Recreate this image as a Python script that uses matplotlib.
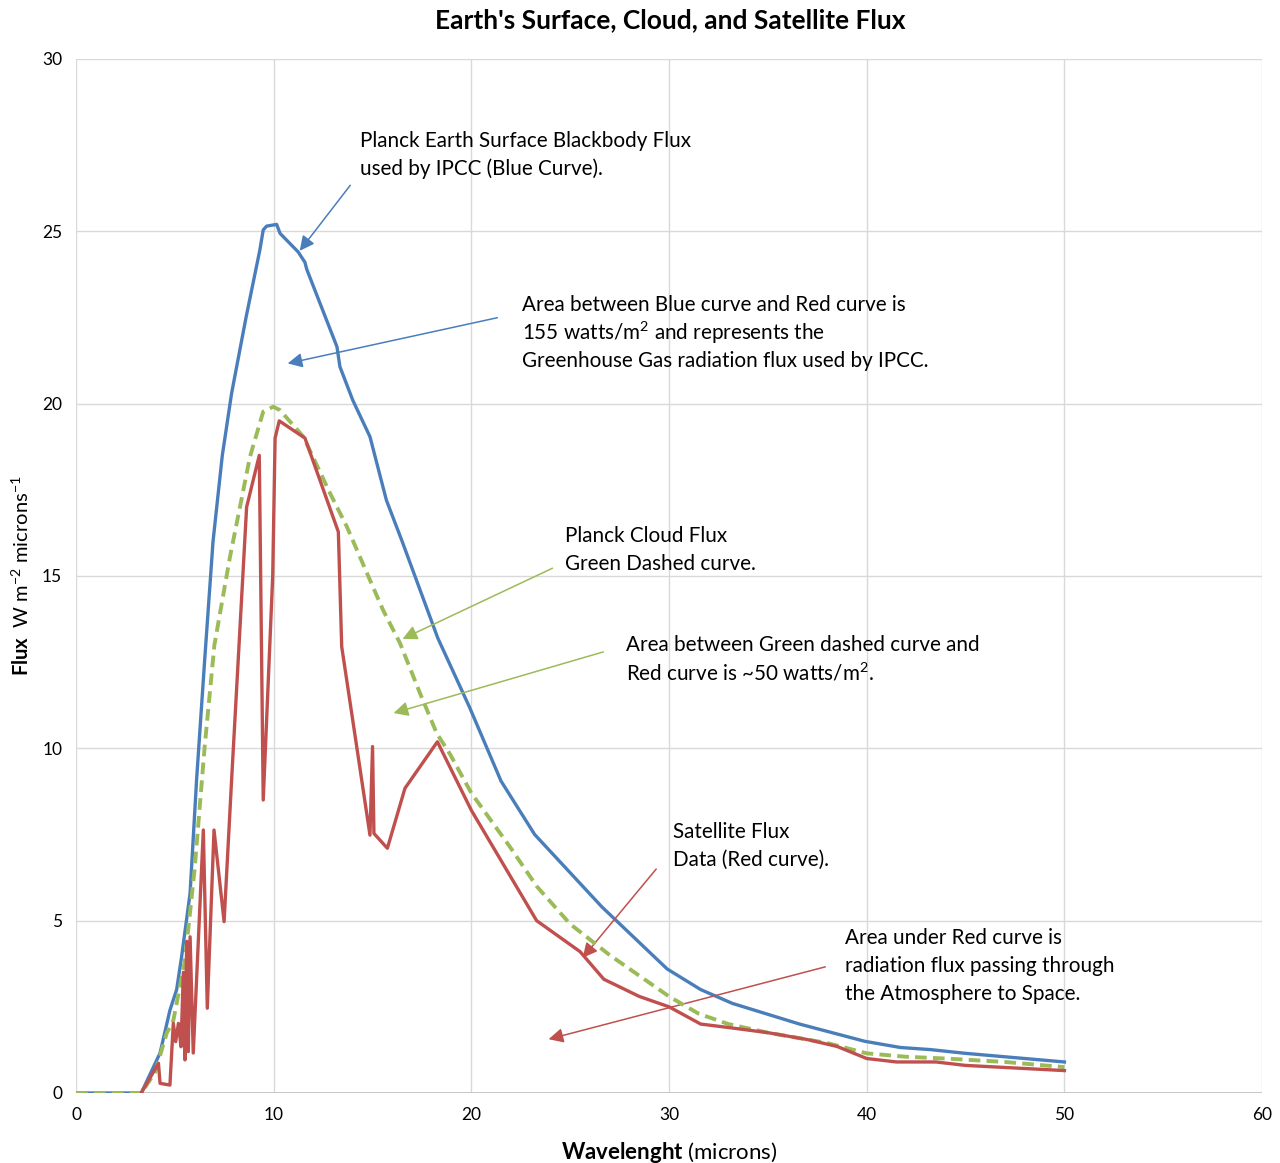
import matplotlib
matplotlib.use('Agg')
import matplotlib.pyplot as plt

plt.rcParams['font.family'] = ['Lato', 'DejaVu Sans']
plt.rcParams['mathtext.fontset'] = 'custom'
plt.rcParams['mathtext.rm'] = 'Lato'
plt.rcParams['mathtext.bf'] = 'Lato:bold'

# blue: Planck earth surface
blue_x = [0, 1, 2, 3.3, 4.25, 4.75, 5.09, 5.34, 5.77, 6.1, 6.5, 6.93, 7.4, 7.87, 8.6, 9.3,
          9.47, 9.64, 10.15, 10.32, 11.24, 11.58, 11.67, 13.2, 13.35, 14.0, 14.87, 15.7,
          16.5, 18.3, 19.9, 21.5, 23.2, 26.6, 29.9, 31.6, 33.2, 36.6, 39.9, 41.7, 43.2, 45, 50]
blue_y = [0, 0, 0, 0, 1.16, 2.4, 3.0, 3.95, 5.8, 9.1, 12.5, 16.0, 18.5, 20.3, 22.5, 24.46,
          25.04, 25.15, 25.2, 24.94, 24.4, 24.1, 23.9, 21.65, 21.07, 20.1, 19.04, 17.2,
          16.0, 13.2, 11.2, 9.05, 7.5, 5.4, 3.6, 3.0, 2.6, 2.0, 1.5, 1.32, 1.26, 1.15, 0.9]

# green dashed: Planck cloud
green_x = [0, 1, 2, 3.3, 4.0, 4.59, 4.92, 5.5, 6.0, 6.5, 7.0, 7.79, 8.8, 9.47, 9.98, 10.32,
           11.5, 12.85, 13.7, 14.87, 15.54, 16.39, 17.4, 18.25, 18.9, 20, 22, 23.3, 25, 27,
           30, 31.5, 33, 35, 38, 40, 42, 44, 47, 50]
green_y = [0, 0, 0, 0, 0.6, 1.74, 2.1, 3.8, 6.5, 10.0, 13.0, 15.56, 18.46, 19.77, 19.91, 19.81,
           19.04, 17.4, 16.43, 14.88, 14.0, 13.05, 11.6, 10.43, 9.85, 8.7, 7.1, 6.0, 4.9, 4.0,
           2.8, 2.3, 2.0, 1.75, 1.45, 1.15, 1.05, 1.0, 0.9, 0.75]

# red: satellite data
red_x = [3.3, 4.17, 4.25, 4.75, 4.92, 5.04, 5.18, 5.31, 5.43, 5.51, 5.6, 5.68, 5.77, 5.93,
         6.44, 6.64, 6.98, 7.49, 7.87, 8.63, 9.27, 9.47, 9.95, 10.07, 10.28, 11.58, 13.27,
         13.44, 14.87, 15.0, 15.07, 15.75, 16.64, 18.28, 20, 23.3, 25.5, 26.7, 28.5, 30,
         31.6, 33, 35, 37, 38.5, 40, 41.5, 43.5, 45, 50]
red_y = [0, 0.86, 0.28, 0.23, 2.02, 1.49, 2.02, 1.34, 3.5, 0.96, 4.4, 1.2, 4.53, 1.16,
         7.63, 2.46, 7.63, 4.97, 9.08, 17.0, 18.5, 8.5, 15.0, 19.0, 19.5, 19.0, 16.28,
         12.95, 7.48, 10.05, 7.53, 7.1, 8.84, 10.19, 8.2, 5.0, 4.1, 3.3, 2.8, 2.5,
         2.0, 1.9, 1.75, 1.55, 1.35, 1.0, 0.9, 0.9, 0.8, 0.65]

blue = '#4a7ebb'
red = '#c0504d'
green = '#9bbb59'

fig = plt.figure(figsize=(12.8, 11.63), dpi=100)
ax = fig.add_axes([0.0594, 0.0602, 0.9266, 0.8891])

ax.plot(blue_x, blue_y, color=blue, lw=2.4, zorder=3)
ax.plot(green_x, green_y, color=green, lw=2.8, ls=(0, (3, 1.6)), zorder=4)
ax.plot(red_x, red_y, color=red, lw=2.4, zorder=5)

ax.set_xlim(0, 60)
ax.set_ylim(0, 30)
ax.set_xticks(range(0, 61, 10))
ax.set_yticks(range(0, 31, 5))
ax.grid(True, color='#d9d9d9', lw=1)
ax.set_axisbelow(True)
for s in ax.spines.values():
    s.set_visible(False)
ax.axhline(0, color='#bfbfbf', lw=1.2, zorder=1)
ax.tick_params(length=0, labelsize=12.5, pad=10)

fig.text(0.524, 0.983, "Earth's Surface, Cloud, and Satellite Flux", ha='center', va='center',
         fontsize=19, fontweight='bold')
ax.set_xlabel(r'$\bf{Wavelenght}$ (microns)', fontsize=16, labelpad=12)
fig.text(0.016, 0.505, r'$\bf{Flux}$  W m$^{-2}$ microns$^{-1}$', fontsize=14.5,
         rotation=90, ha='center', va='center')

fs = 14.85
step = 0.81  # line step in data units

def note(x, y, lines, tail, tip, col):
    for i, t in enumerate(lines):
        ax.text(x, y - i * step, t, fontsize=fs, va='center', ha='left')
    ax.annotate('', xy=tip, xytext=tail,
                arrowprops=dict(arrowstyle='-|>', color=col, lw=1.1, mutation_scale=22))

note(14.37, 27.62, ['Planck Earth Surface Blackbody Flux', 'used by IPCC (Blue Curve).'],
     (13.96, 26.4), (11.23, 24.37), blue)
note(22.56, 22.86, ['Area between Blue curve and Red curve is',
                    '155 watts/m$^{2}$ and represents the',
                    'Greenhouse Gas radiation flux used by IPCC.'],
     (21.45, 22.51), (10.57, 21.15), blue)
note(24.73, 16.16, ['Planck Cloud Flux', 'Green Dashed curve.'],
     (24.23, 15.26), (16.39, 13.14), green)
note(27.82, 13.0, ['Area between Green dashed curve and', 'Red curve is ~50 watts/m$^{2}$.'],
     (26.81, 12.82), (15.93, 11.0), green)
note(30.2, 7.57, ['Satellite Flux', 'Data (Red curve).'],
     (29.44, 6.56), (25.54, 3.86), red)
note(38.9, 4.5, ['Area under Red curve is', 'radiation flux passing through',
                 'the Atmosphere to Space.'],
     (38.04, 3.68), (23.77, 1.54), red)

fig.savefig('out.png', dpi=100)
